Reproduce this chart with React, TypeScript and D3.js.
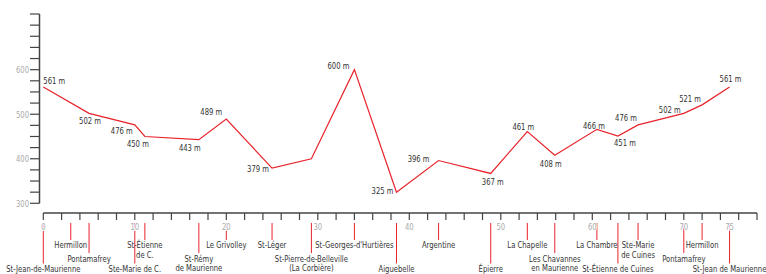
import React from "react";
import * as d3 from "d3";

// elevation profile (km along route, altitude in m)
const profileKm = [0, 5, 10, 11.1, 17, 20, 25, 29.3, 34, 38.6, 43.2, 48.9, 52.9, 55.9, 60.5, 62.8, 65, 70, 72, 75];
const profileElev = [561, 502, 476, 450, 443, 489, 379, 400, 600, 325, 396, 367, 461, 408, 466, 451, 476, 502, 521, 561];
const showElevLabel = [true, true, true, true, true, true, true, false, true, true, true, true, true, true, true, true, true, true, true, true];

// towns along the route
const townNames = [
  "St-Jean-de-Maurienne", "Hermillon", "Pontamafrey", "Ste-Marie de C.", "St-Étienne\nde C.",
  "St-Rémy\nde Maurienne", "Le Grivolley", "St-Léger", "St-Pierre-de-Belleville\n(La Corbière)",
  "St-Georges-d'Hurtières", "Aiguebelle", "Argentine", "Épierre", "La Chapelle",
  "Les Chavannes\nen Maurienne", "La Chambre", "St-Étienne de Cuines", "Ste-Marie\nde Cuines",
  "Pontamafrey", "Hermillon", "St-Jean de Maurienne",
];
const townKm = [0, 3, 5, 10, 11.1, 17, 20, 25, 29.3, 34, 38.6, 43.2, 48.9, 52.9, 55.9, 60.5, 62.8, 65, 70, 72, 75];

const xTickLabels = [0, 10, 20, 30, 40, 50, 60, 70, 75];
const yTickLabels = [300, 400, 500, 600];

// layout: label offsets (dx, dy) for elevation labels, row for town labels
const elevLabelOffset: [number, number][] = [
  [11, -6.5], [1, 7.6], [-13, 6], [-7, 7.5], [-9, 7.6], [-15, -7], [-14, 1], [0, 0], [-16, -4], [-14, -1],
  [-20, -1.5], [2, 8.5], [-4, -4.6], [-4, 8], [-3, -3.5], [7, 7], [-12, -7], [-14, -4], [-12, -6], [1, -8],
];
const townRow = [2, 0, 1, 2, 0, 1, 0, 0, 1, 0, 2, 0, 2, 0, 1, 0, 2, 0, 1, 0, 2];

const RED = "#e8232b";
const AXIS = "#444";
const GREY = "#aaa";
const FONT = "'DejaVu Sans Condensed', 'DejaVu Sans', sans-serif";
const SX = 0.8; // narrow the font horizontally

// text drawn narrowed around its anchor point
const Label = ({ x, y, children, fill = "#333", halo = false }: any) => (
  <text
    transform={`translate(${x},${y}) scale(${SX},1)`}
    dy="0.35em"
    textAnchor="middle"
    fontSize={9.5}
    fill={fill}
    stroke={halo ? "#fff" : undefined}
    strokeWidth={halo ? 2 : undefined}
    paintOrder="stroke"
  >
    {children}
  </text>
);

export default function App() {
  const width = 766;
  const height = 274;
  const x = d3.scaleLinear().domain([0, 78]).range([43.3, 757]);
  const y = d3.scaleLinear().domain([300, 725]).range([203.3, 14]);
  const line = d3
    .line<number>()
    .x((_, i) => x(profileKm[i]))
    .y((d) => y(d));

  const yTicks = d3.range(300, 726, 25);
  const xTicks = d3.range(0, 79, 2);
  const axisY = 213;
  const rowLabelY = [245, 258.5, 268.5];
  const rowLineEnd = [240, 253, 263.5];

  return (
    <svg width={width} height={height} style={{ position: "absolute", left: 0, top: 0 }} fontFamily={FONT}>
      {/* y axis */}
      <line x1={39.5} x2={39.5} y1={y(725)} y2={y(300)} stroke={AXIS} strokeWidth={1.5} />
      {yTicks.map((t) => (
        <line key={t} x1={30} x2={39.5} y1={y(t)} y2={y(t)} stroke={AXIS} strokeWidth={1.2} />
      ))}
      {yTickLabels.map((t) => (
        <text
          key={t}
          transform={`translate(29,${y(t)}) scale(${SX},1)`}
          dy="0.35em"
          textAnchor="end"
          fontSize={9.5}
          fill={GREY}
        >
          {t}
        </text>
      ))}

      {/* x axis */}
      <line x1={x(0)} x2={x(78)} y1={axisY} y2={axisY} stroke={AXIS} strokeWidth={1.5} />
      {xTicks.map((t) => (
        <line key={t} x1={x(t)} x2={x(t)} y1={axisY} y2={axisY + 7} stroke={AXIS} strokeWidth={1.2} />
      ))}

      {/* town markers */}
      {townKm.map((k, i) => (
        <line key={i} x1={x(k)} x2={x(k)} y1={223} y2={rowLineEnd[townRow[i]]} stroke={RED} strokeWidth={1} />
      ))}
      {xTickLabels.map((t) => (
        <Label key={t} x={x(t)} y={227} fill={GREY} halo>
          {t}
        </Label>
      ))}
      {townNames.map((name, i) => {
        const lines = name.split("\n");
        const row = townRow[i];
        const y0 = rowLabelY[row];
        const step = row === 1 ? 9.5 : 10;
        return (
          <g key={i}>
            {lines.map((l, j) => (
              <Label key={j} x={x(townKm[i])} y={y0 + j * step}>
                {l}
              </Label>
            ))}
          </g>
        );
      })}

      {/* profile */}
      <path d={line(profileElev) || ""} fill="none" stroke={RED} strokeWidth={1.2} />
      {profileElev.map((e, i) =>
        showElevLabel[i] ? (
          <Label key={i} x={x(profileKm[i]) + elevLabelOffset[i][0]} y={y(e) + elevLabelOffset[i][1]}>
            {e} m
          </Label>
        ) : null
      )}
    </svg>
  );
}
